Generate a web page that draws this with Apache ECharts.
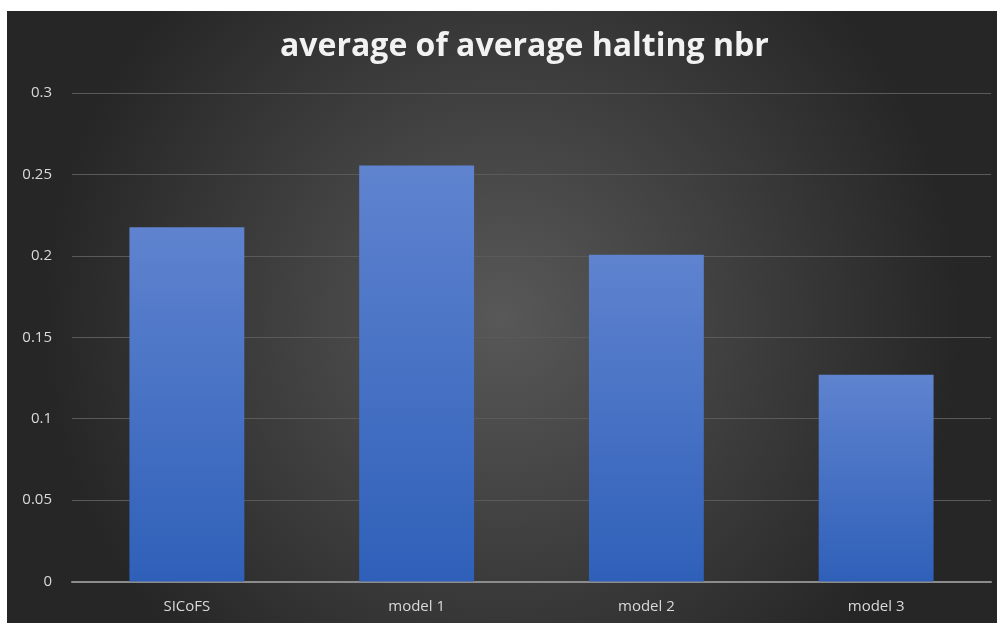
<!DOCTYPE html>
<html>
<head>
<meta charset="utf-8">
<script src="https://cdn.jsdelivr.net/npm/echarts@6/dist/echarts.min.js"></script>
<style>
  html, body { margin: 0; padding: 0; background: #fff; }
  #chart { position: absolute; left: 7px; top: 11px; width: 990px; height: 612px; }
</style>
</head>
<body>
<div id="chart"></div>
<script>
const categories = ["SICoFS", "model 1", "model 2", "model 3"];
const values = [0.2175, 0.2555, 0.2007, 0.127];
const yTicks = [0, 0.05, 0.1, 0.15, 0.2, 0.25, 0.3];

const chart = echarts.init(document.getElementById("chart"));
chart.setOption({
  backgroundColor: {
    type: "radial", x: 0.5, y: 0.5, r: 0.75,
    colorStops: [
      { offset: 0, color: "#585858" },
      { offset: 1, color: "#262626" }
    ]
  },
  title: {
    text: "average of average halting nbr",
    left: 268,
    top: 15,
    textStyle: { color: "#f2f2f2", fontSize: 32, fontWeight: "bold", fontFamily: "Open Sans" }
  },
  grid: { left: 65, right: 6, top: 82, bottom: 41.5 },
  xAxis: {
    type: "category",
    data: categories,
    axisLine: { lineStyle: { color: "#8c8c8c", width: 2 } },
    axisTick: { show: false },
    axisLabel: { color: "#d9d9d9", fontSize: 15, margin: 18, fontFamily: "Open Sans" }
  },
  yAxis: {
    type: "value",
    min: yTicks[0],
    max: yTicks[yTicks.length - 1],
    interval: 0.05,
    axisLine: { show: false },
    axisTick: { show: false },
    axisLabel: { color: "#d9d9d9", fontSize: 15, margin: 20, fontFamily: "Open Sans" },
    splitLine: { lineStyle: { color: "#5a5a5a", width: 1 } }
  },
  series: [{
    type: "bar",
    data: values,
    barWidth: "50%",
    itemStyle: {
      color: {
        type: "linear", x: 0, y: 0, x2: 0, y2: 1,
        colorStops: [
          { offset: 0, color: "#5f83cf" },
          { offset: 1, color: "#2f60b9" }
        ]
      },
      shadowColor: "rgba(0,0,0,0.45)",
      shadowBlur: 6
    }
  }]
});
</script>
</body>
</html>
